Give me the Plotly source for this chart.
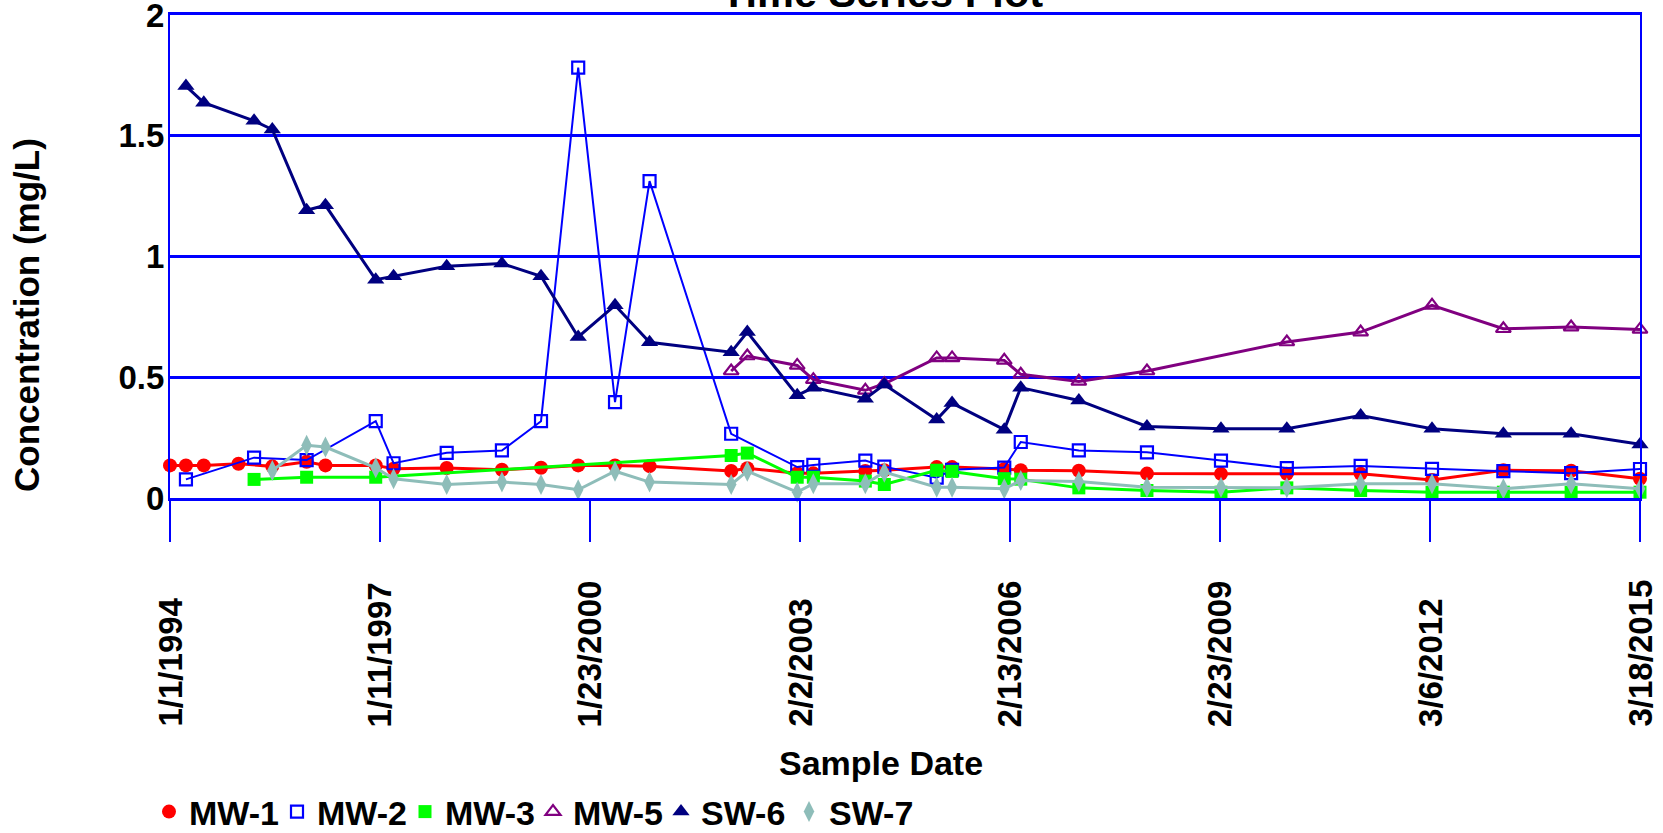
import plotly.graph_objects as go

# ---------------- data ----------------
mw1_dates = ["1994-01-01", "1994-03-26", "1994-06-28", "1994-12-28", "1995-06-24", "1995-12-22",
             "1996-03-30", "1996-12-20", "1997-03-24", "1997-12-29", "1998-10-16", "1999-05-10",
             "1999-11-22", "2000-06-03", "2000-12-02", "2002-02-05", "2002-05-01", "2003-01-19",
             "2003-04-14", "2004-01-13", "2004-04-22", "2005-01-23", "2005-04-14", "2006-01-14",
             "2006-04-11", "2007-02-11", "2008-02-05", "2009-03-01", "2010-02-11", "2011-03-07",
             "2012-03-17", "2013-03-28", "2014-03-20", "2015-03-18"]
mw1_vals = [0.135, 0.135, 0.135, 0.142, 0.131, 0.150,
            0.135, 0.135, 0.121, 0.124, 0.117, 0.125,
            0.135, 0.135, 0.132, 0.112, 0.123, 0.103,
            0.102, 0.112, 0.115, 0.128, 0.128, 0.120,
            0.115, 0.113, 0.101, 0.100, 0.100, 0.100,
            0.075, 0.115, 0.113, 0.080]

mw2_dates = ["1994-03-26", "1995-03-20", "1995-12-22", "1996-12-20", "1997-03-24", "1997-12-29",
             "1998-10-16", "1999-05-10", "1999-11-22", "2000-06-03", "2000-12-02", "2002-02-05",
             "2003-01-19", "2003-04-14", "2004-01-13", "2004-04-22", "2005-01-23", "2005-04-14",
             "2006-01-14", "2006-04-11", "2007-02-11", "2008-02-05", "2009-03-01", "2010-02-11",
             "2011-03-07", "2012-03-17", "2013-03-28", "2014-03-20", "2015-03-18"]
mw2_vals = [0.077, 0.167, 0.157, 0.318, 0.144, 0.187,
            0.197, 0.318, 1.782, 0.397, 1.312, 0.266,
            0.128, 0.137, 0.155, 0.130, 0.084, 0.117,
            0.126, 0.232, 0.197, 0.189, 0.155, 0.124,
            0.133, 0.121, 0.111, 0.103, 0.120]

mw3_dates = ["1995-03-20", "1995-12-22", "1996-12-20", "2002-02-05", "2002-05-01", "2003-01-19",
             "2003-04-14", "2004-01-13", "2004-04-22", "2005-01-23", "2005-04-14", "2006-01-14",
             "2006-04-11", "2007-02-11", "2008-02-05", "2009-03-01", "2010-02-11", "2011-03-07",
             "2012-03-17", "2013-03-28", "2014-03-20", "2015-03-18"]
mw3_vals = [0.077, 0.086, 0.086, 0.176, 0.186, 0.086,
            0.086, 0.070, 0.056, 0.115, 0.110, 0.080,
            0.078, 0.042, 0.031, 0.024, 0.042, 0.031,
            0.024, 0.024, 0.024, 0.024]

mw5_dates = ["2002-02-05", "2002-05-01", "2003-01-19", "2003-04-14", "2004-01-13", "2004-04-22",
             "2005-01-23", "2005-04-14", "2006-01-14", "2006-04-11", "2007-02-11", "2008-02-05",
             "2010-02-11", "2011-03-07", "2012-03-17", "2013-03-28", "2014-03-20", "2015-03-18"]
mw5_vals = [0.526, 0.588, 0.549, 0.490, 0.446, 0.473,
            0.580, 0.580, 0.570, 0.512, 0.483, 0.526,
            0.646, 0.687, 0.798, 0.701, 0.708, 0.698]

sw6_dates = ["1994-03-26", "1994-06-28", "1995-03-20", "1995-06-24", "1995-12-22", "1996-03-30",
             "1996-12-20", "1997-03-24", "1997-12-29", "1998-10-16", "1999-05-10", "1999-11-22",
             "2000-06-03", "2000-12-02", "2002-02-05", "2002-05-01", "2003-01-19", "2003-04-14",
             "2004-01-13", "2004-04-22", "2005-01-23", "2005-04-14", "2006-01-14", "2006-04-11",
             "2007-02-11", "2008-02-05", "2009-03-01", "2010-02-11", "2011-03-07", "2012-03-17",
             "2013-03-28", "2014-03-20", "2015-03-18"]
sw6_vals = [1.706, 1.637, 1.562, 1.526, 1.192, 1.212,
            0.904, 0.918, 0.960, 0.971, 0.918, 0.667,
            0.798, 0.645, 0.604, 0.687, 0.425, 0.457,
            0.411, 0.470, 0.325, 0.393, 0.283, 0.457,
            0.404, 0.296, 0.287, 0.287, 0.342, 0.287,
            0.266, 0.266, 0.222]

sw7_dates = ["1995-06-24", "1995-12-22", "1996-03-30", "1996-12-20", "1997-03-24", "1997-12-29",
             "1998-10-16", "1999-05-10", "1999-11-22", "2000-06-03", "2000-12-02", "2002-02-05",
             "2002-05-01", "2003-01-19", "2003-04-14", "2004-01-13", "2004-04-22", "2005-01-23",
             "2005-04-14", "2006-01-14", "2006-04-11", "2007-02-11", "2008-02-05", "2009-03-01",
             "2010-02-11", "2011-03-07", "2012-03-17", "2013-03-28", "2014-03-20", "2015-03-18"]
sw7_vals = [0.114, 0.218, 0.211, 0.125, 0.080, 0.056,
            0.066, 0.056, 0.034, 0.111, 0.066, 0.056,
            0.111, 0.024, 0.059, 0.059, 0.107, 0.045,
            0.045, 0.038, 0.072, 0.068, 0.045, 0.045,
            0.042, 0.059, 0.059, 0.038, 0.059, 0.038]

tick_dates = ["1994-01-01", "1997-01-11", "2000-01-23", "2003-02-02",
              "2006-02-13", "2009-02-23", "2012-03-06", "2015-03-18"]
tick_text = ["1/1/1994", "1/11/1997", "1/23/2000", "2/2/2003",
             "2/13/2006", "2/23/2009", "3/6/2012", "3/18/2015"]
y_ticks = [0, 0.5, 1, 1.5, 2]
y_tick_text = ["0", "0.5", "1", "1.5", "2"]

# ---------------- styling ----------------
FONT = "Liberation Sans, Arial, Helvetica, sans-serif"
AXIS_BLUE = "#0000FF"

W, H = 1663, 833
ML, MR, MT, MB = 170, 23, 15, 335
PW, PH = W - ML - MR, H - MT - MB


def px_to_paper_x(px):
    return (px - ML) / PW


def px_to_paper_y(py):
    return (H - MB - py) / PH


series = [
    ("MW-1", mw1_dates, mw1_vals, "#FF0000", dict(symbol="circle", size=14), 3),
    ("MW-2", mw2_dates, mw2_vals, "#0000FF",
     dict(symbol="square-open", size=12, line=dict(width=2.2)), 2),
    ("MW-3", mw3_dates, mw3_vals, "#00FF00", dict(symbol="square", size=13), 3),
    ("MW-5", mw5_dates, mw5_vals, "#800080",
     dict(symbol="triangle-up-open", size=13, line=dict(width=2.2)), 3),
    ("SW-6", sw6_dates, sw6_vals, "#000080", dict(symbol="triangle-up", size=15), 3),
    ("SW-7", sw7_dates, sw7_vals, "#8EBDB9", dict(symbol="diamond-tall", size=15), 3),
]

fig = go.Figure()
for name, d, v, color, mk, lw in series:
    m = dict(mk)
    m["color"] = color
    if "line" in m:
        m["line"] = dict(m["line"], color=color)
    # connecting line (not shown in legend)
    fig.add_trace(go.Scatter(
        x=d, y=v, name=name, mode="lines", legendgroup=name, showlegend=False,
        line=dict(color=color, width=lw), cliponaxis=False, hoverinfo="skip",
    ))
    # markers (legend shows marker only)
    fig.add_trace(go.Scatter(
        x=d, y=v, name=name, mode="markers", legendgroup=name,
        marker=m, cliponaxis=False,
    ))

annotations = []
for d, t in zip(tick_dates, tick_text):
    annotations.append(dict(
        x=d, xref="x", y=px_to_paper_y(729), yref="paper",
        text=t, textangle=-90, showarrow=False,
        xanchor="center", yanchor="bottom",
        font=dict(family=FONT, size=33, color="black", weight="bold"),
    ))

annotations.append(dict(
    x=px_to_paper_x(881), xref="paper", y=px_to_paper_y(763), yref="paper",
    text="Sample Date", showarrow=False, xanchor="center", yanchor="middle",
    font=dict(family=FONT, size=34, color="black", weight="bold"),
))
annotations.append(dict(
    x=px_to_paper_x(26), xref="paper", y=px_to_paper_y(315), yref="paper",
    text="Concentration (mg/L)", textangle=-90, showarrow=False,
    xanchor="center", yanchor="middle",
    font=dict(family=FONT, size=35, color="black", weight="bold"),
))

fig.update_layout(
    width=W, height=H,
    margin=dict(l=ML, r=MR, t=MT, b=MB, autoexpand=False),
    paper_bgcolor="white", plot_bgcolor="white",
    title=dict(
        text="Time Series Plot", xref="container", yref="container",
        x=882 / W, xanchor="center", y=1 - 7 / H, yanchor="bottom",
        font=dict(family=FONT, size=41.5, color="black", weight="bold"),
    ),
    xaxis=dict(
        type="date", range=[tick_dates[0], tick_dates[-1]],
        tickmode="array", tickvals=tick_dates, showticklabels=False,
        ticks="outside", ticklen=41, tickwidth=2, tickcolor=AXIS_BLUE,
        showline=True, linecolor=AXIS_BLUE, linewidth=2.5, mirror=True,
        showgrid=False, zeroline=False,
    ),
    yaxis=dict(
        range=[0, 2.0002], tickmode="array", tickvals=y_ticks, ticktext=y_tick_text,
        showgrid=True, gridcolor=AXIS_BLUE, gridwidth=2.5,
        showline=True, linecolor=AXIS_BLUE, linewidth=2, mirror=True,
        ticks="", ticklabelstandoff=-3, ticklabeloverflow="allow", zeroline=False,
        tickfont=dict(family=FONT, size=33, color="black", weight="bold"),
    ),
    legend=dict(
        orientation="h", xref="container", yref="container",
        x=149 / W, xanchor="left", y=1 - 812 / H, yanchor="middle",
        font=dict(family=FONT, size=34, color="black", weight="bold"),
        entrywidth=83, entrywidthmode="pixels",
        bgcolor="rgba(0,0,0,0)", borderwidth=0,
    ),
    annotations=annotations,
    showlegend=True,
)

fig.write_html("out.html", config={"displayModeBar": False},
               post_script="document.body.style.margin='0px';")
